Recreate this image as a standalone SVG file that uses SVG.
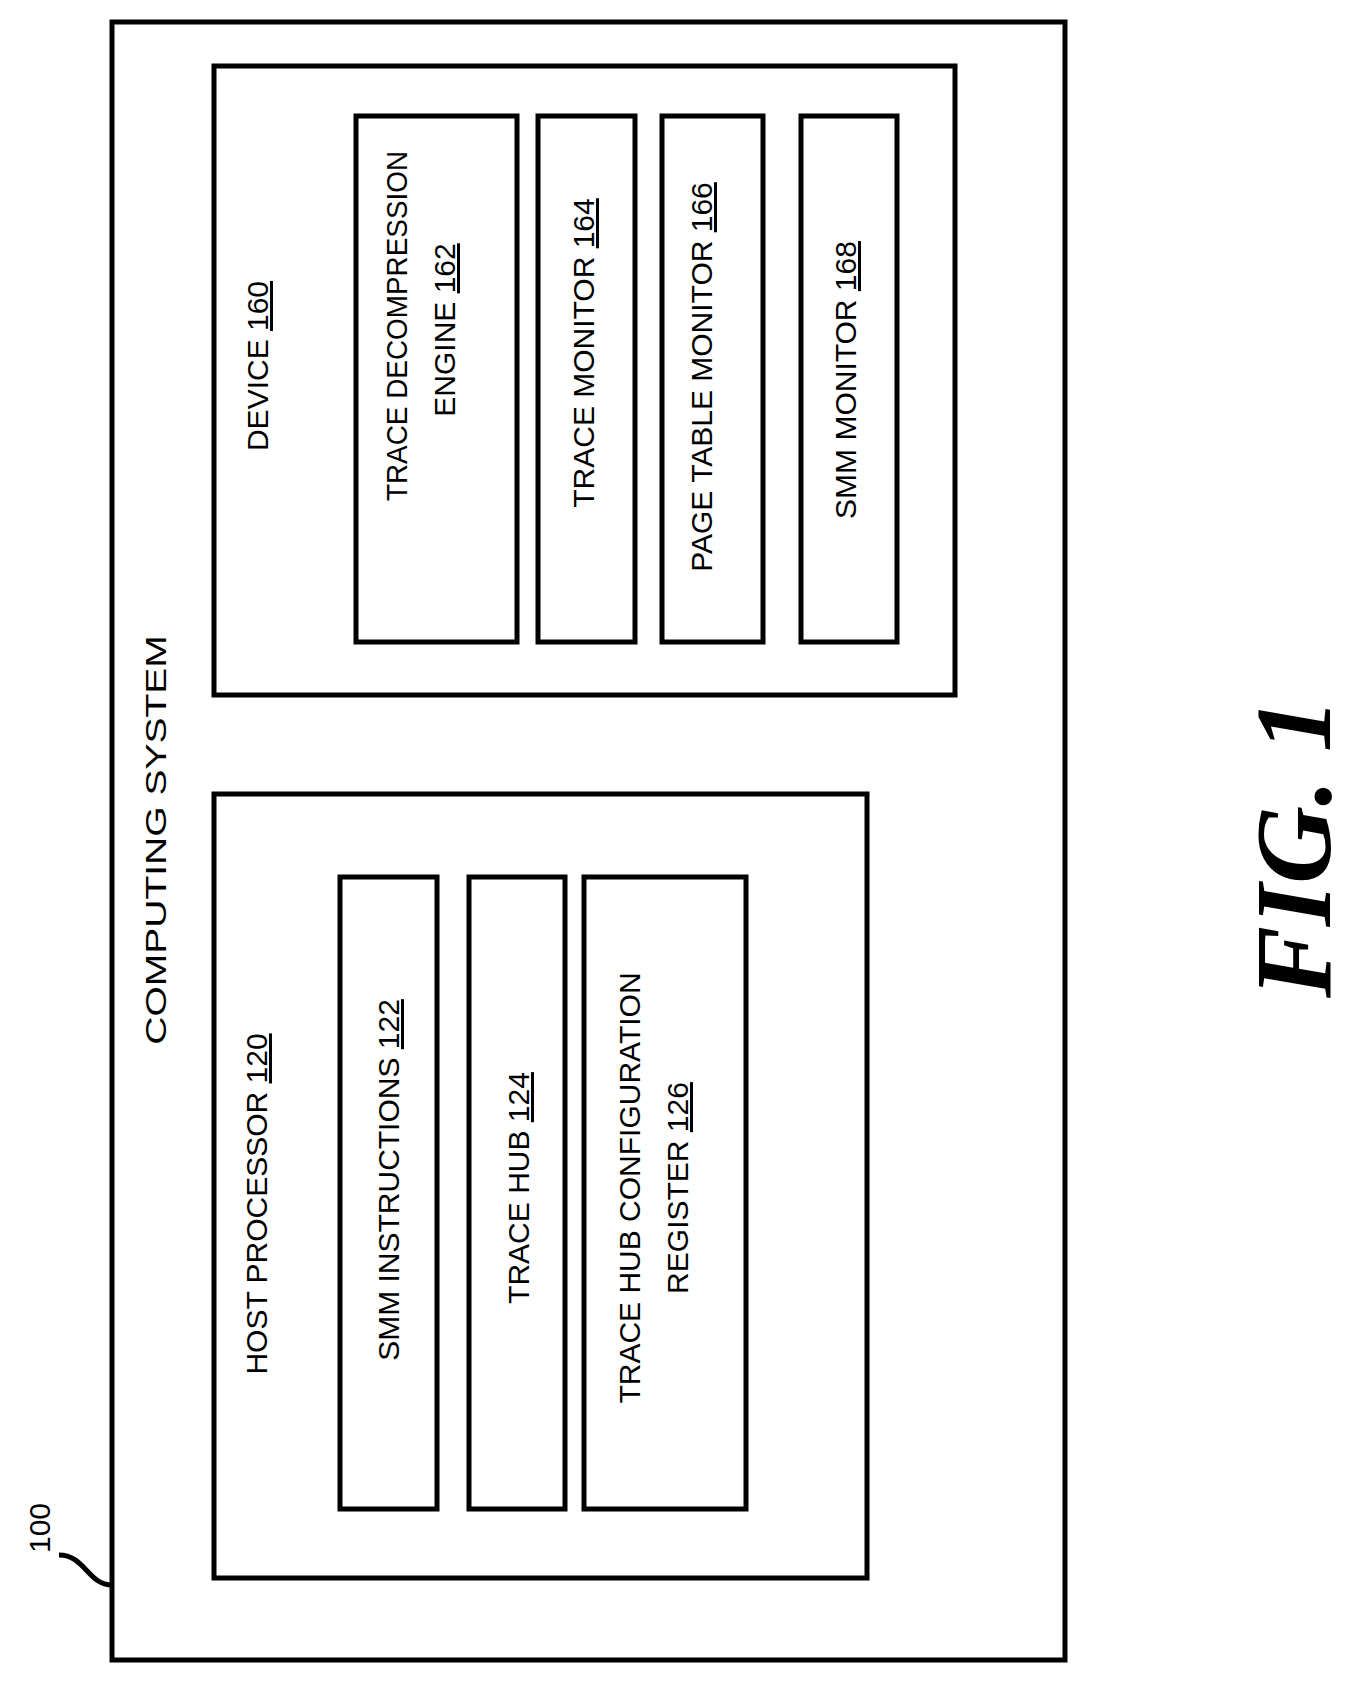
<svg xmlns="http://www.w3.org/2000/svg" width="1354" height="1683" viewBox="0 0 1354 1683">
<style>
.b{fill:none;stroke:#000;stroke-width:5}
.t{font-family:"Liberation Sans",Arial,sans-serif;font-size:30px;fill:#000;text-anchor:middle}
.u{text-decoration:underline}
</style>
<rect width="1354" height="1683" fill="#fff"/>
<g id="system"><rect class="b" x="112" y="22" width="953" height="1638"/>
<text class="t" transform="translate(166,840) rotate(-90) scale(1.3,1)">COMPUTING SYSTEM</text></g>
<g id="host"><rect class="b" x="214" y="794" width="653" height="784"/>
<text class="t" transform="translate(267,1204) rotate(-90)">HOST PROCESSOR <tspan class="u">120</tspan></text></g>
<g id="smmi"><rect class="b" x="340" y="877" width="97" height="632"/>
<text class="t" transform="translate(399,1180) rotate(-90)">SMM INSTRUCTIONS <tspan class="u">122</tspan></text></g>
<g id="hub"><rect class="b" x="469" y="877" width="96" height="632"/>
<text class="t" transform="translate(529,1188) rotate(-90)">TRACE HUB <tspan class="u">124</tspan></text></g>
<g id="cfg"><rect class="b" x="584" y="877" width="162" height="632"/>
<text class="t" transform="translate(640,1188) rotate(-90)">TRACE HUB CONFIGURATION</text>
<text class="t" transform="translate(688,1188) rotate(-90)">REGISTER <tspan class="u">126</tspan></text></g>
<g id="device"><rect class="b" x="214" y="66" width="741" height="629"/>
<text class="t" transform="translate(268,366) rotate(-90)">DEVICE <tspan class="u">160</tspan></text></g>
<g id="tde"><rect class="b" x="356" y="116" width="161" height="526"/>
<text class="t" transform="translate(407,326) rotate(-90) scale(0.93,1)">TRACE DECOMPRESSION</text>
<text class="t" transform="translate(455,330) rotate(-90)">ENGINE <tspan class="u">162</tspan></text></g>
<g id="tm"><rect class="b" x="538" y="116" width="97" height="526"/>
<text class="t" transform="translate(594,353) rotate(-90)">TRACE MONITOR <tspan class="u">164</tspan></text></g>
<g id="ptm"><rect class="b" x="662" y="116" width="101" height="526"/>
<text class="t" transform="translate(712,377) rotate(-90)">PAGE TABLE MONITOR <tspan class="u">166</tspan></text></g>
<g id="smmm"><rect class="b" x="801" y="116" width="96" height="526"/>
<text class="t" transform="translate(856,380) rotate(-90)">SMM MONITOR <tspan class="u">168</tspan></text></g>
<g id="connectors"><path class="b" d="M59,1555 C85,1555 88,1585 112,1585" stroke-width="4"/></g>
<text class="t" transform="translate(50,1528) rotate(-90)">100</text>
<text transform="translate(1330,848) rotate(-90)" style="font-family:'Liberation Serif',serif;font-weight:bold;font-style:italic;font-size:108px;text-anchor:middle">FIG. 1</text>
</svg>
